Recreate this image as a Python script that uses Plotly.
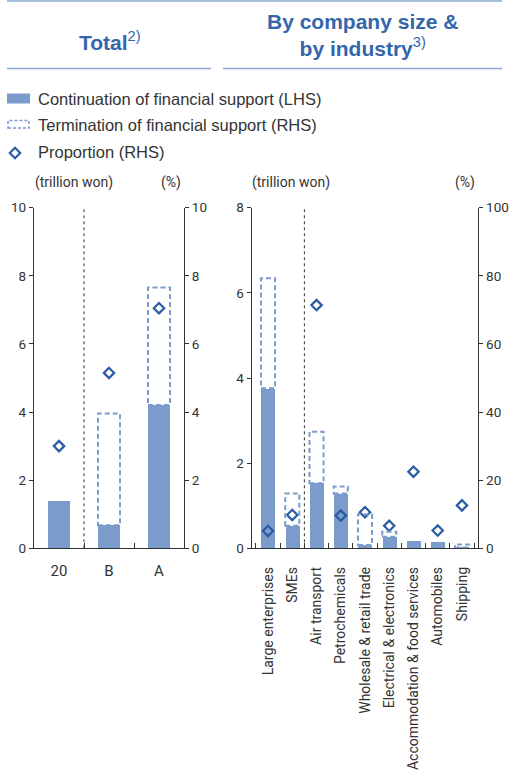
import plotly.graph_objects as go

# ---------------- data ----------------
total_cats = ["20", "B", "A"]
total_cont = [1.4, 0.68, 4.21]          # trillion won
total_term = [0.0, 3.28, 3.45]          # trillion won (stacked on top)
total_prop = [3.0, 5.15, 7.05]          # %

ind_cats = ["Large enterprises", "SMEs", "Air transport", "Petrochemicals",
            "Wholesale & retail trade", "Electrical & electronics",
            "Accommodation & food services", "Automobiles", "Shipping"]
ind_cont = [3.76, 0.53, 1.53, 1.29, 0.08, 0.27, 0.17, 0.15, 0.02]
ind_term = [2.58, 0.76, 1.21, 0.16, 0.72, 0.12, 0.0, 0.0, 0.07]
ind_prop = [5.1, 9.8, 71.4, 9.6, 10.6, 6.6, 22.5, 5.2, 12.6]

# ---------------- styling ----------------
W, H = 509, 772
BAR = "#7B9BCB"
DIA = "#2A5CA6"
HEAD = "#3366AA"
LINE = "#8AA8D2"
TXT = "#333333"
NARROW = "Liberation Sans Narrow, Arial Narrow, Roboto, sans-serif"
SANS = "Liberation Sans, Arial, Helvetica, sans-serif"


def px(x):
    return x / W


def py(y):
    return 1 - y / H


y_bottom, y_top = 548.3, 207.7
fig = go.Figure()
dmark = dict(symbol="diamond-open", size=8, color=DIA, line=dict(width=2.2, color=DIA))

# left panel
fig.add_trace(go.Bar(x=total_cats, y=total_cont, marker_color=BAR, width=0.44,
                     xaxis="x", yaxis="y", showlegend=False, marker_line_width=0))
fig.add_trace(go.Scatter(x=total_cats, y=total_prop, mode="markers", xaxis="x", yaxis="y2",
                         marker=dmark, showlegend=False))
# right panel
fig.add_trace(go.Bar(x=ind_cats, y=ind_cont, marker_color=BAR, width=0.58,
                     xaxis="x2", yaxis="y3", showlegend=False, marker_line_width=0))
fig.add_trace(go.Scatter(x=ind_cats, y=ind_prop, mode="markers", xaxis="x2", yaxis="y4",
                         marker=dmark, showlegend=False))

shapes = []
# dashed termination boxes
for i, (c, t) in enumerate(zip(total_cont, total_term)):
    if t > 0:
        shapes.append(dict(type="rect", xref="x", yref="y", x0=i - 0.22, x1=i + 0.22,
                           y0=c, y1=c + t, line=dict(color=BAR, width=2, dash="5px,3px")))
for i, (c, t) in enumerate(zip(ind_cont, ind_term)):
    if t > 0:
        shapes.append(dict(type="rect", xref="x2", yref="y3", x0=i - 0.29, x1=i + 0.29,
                           y0=c, y1=c + t, line=dict(color=BAR, width=2, dash="5px,3px")))
# dotted separators
shapes.append(dict(type="line", xref="x", yref="y", x0=0.5, x1=0.5, y0=0, y1=10,
                   line=dict(color="#333333", width=1, dash="dot")))
shapes.append(dict(type="line", xref="x2", yref="y3", x0=1.5, x1=1.5, y0=0, y1=8,
                   line=dict(color="#333333", width=1, dash="dot")))
# header rules
shapes.append(dict(type="line", xref="paper", yref="paper", x0=px(7), x1=px(502),
                   y0=py(1), y1=py(1), line=dict(color=LINE, width=1.5)))
shapes.append(dict(type="line", xref="paper", yref="paper", x0=px(7), x1=px(211),
                   y0=py(68.5), y1=py(68.5), line=dict(color=LINE, width=1.5)))
shapes.append(dict(type="line", xref="paper", yref="paper", x0=px(223), x1=px(502),
                   y0=py(68.5), y1=py(68.5), line=dict(color=LINE, width=1.5)))
# legend symbols
shapes.append(dict(type="rect", xref="paper", yref="paper", x0=px(7), x1=px(30),
                   y0=py(103.5), y1=py(93.5), fillcolor=BAR, line=dict(width=0)))
shapes.append(dict(type="rect", xref="paper", yref="paper", x0=px(8), x1=px(29),
                   y0=py(128), y1=py(120.5), line=dict(color=BAR, width=1.5, dash="3px,2px")))
fig.add_trace(go.Scatter(x=[px(15)], y=[py(153)], mode="markers", xaxis="x3", yaxis="y5",
                         marker=dmark, showlegend=False, hoverinfo="skip"))

ann = []
ann.append(dict(text="<b>Total</b><sup>2)</sup>", x=px(110), y=py(41), xref="paper", yref="paper",
                xanchor="center", yanchor="middle", showarrow=False,
                font=dict(family=SANS, size=21, color=HEAD)))
ann.append(dict(text="<b>By company size &</b><br><b>by industry</b><sup>3)</sup>", x=px(362), y=py(35),
                xref="paper", yref="paper", xanchor="center", yanchor="middle", showarrow=False,
                font=dict(family=SANS, size=21, color=HEAD)))
for txt, yy in [("Continuation of financial support (LHS)", 98.5),
                ("Termination of financial support (RHS)", 125),
                ("Proportion (RHS)", 152)]:
    ann.append(dict(text=txt, x=px(36), y=py(yy), xref="paper", yref="paper", xanchor="left",
                    yanchor="middle", showarrow=False, font=dict(family=SANS, size=16.5, color=TXT)))
for txt, xx, anchor in [("(trillion won)", 33, "left"), ("(%)", 183, "right"),
                        ("(trillion won)", 250, "left"), ("(%)", 477, "right")]:
    ann.append(dict(text=txt, x=px(xx), y=py(183), xref="paper", yref="paper", xanchor=anchor,
                    yanchor="middle", showarrow=False, font=dict(family=NARROW, size=14, color=TXT)))

ydom = [py(y_bottom), py(y_top)]
tickfont = dict(family=NARROW, size=13.5, color=TXT)
yax = dict(showline=True, linecolor="#333333", linewidth=1.2, ticks="outside", ticklen=4,
           tickcolor="#333333", showgrid=False, zeroline=False, tickfont=tickfont, domain=ydom,
           automargin=False)
xax = dict(type="category", showline=True, linecolor="#333333", linewidth=1.2, ticks="inside",
           tickson="boundaries", ticklen=5, tickcolor="#333333", showgrid=False,
           tickfont=dict(family=NARROW, size=15, color=TXT), automargin=False)

fig.update_layout(
    width=W, height=H, margin=dict(l=0, r=0, t=0, b=0, pad=0, autoexpand=False),
    paper_bgcolor="white", plot_bgcolor="rgba(0,0,0,0)",
    xaxis=dict(xax, domain=[px(34), px(184)], anchor="y", ticklabelstandoff=9),
    yaxis=dict(yax, range=[0, 10], dtick=2, anchor="x"),
    yaxis2=dict(yax, range=[0, 10], dtick=2, overlaying="y", side="right", anchor="x"),
    xaxis2=dict(xax, domain=[px(251.7), px(478.3)], anchor="y3", tickangle=-90,
                tickfont=dict(family=NARROW, size=14, color=TXT), ticklabelstandoff=12),
    yaxis3=dict(yax, range=[0, 8], dtick=2, anchor="x2"),
    yaxis4=dict(yax, range=[0, 100], dtick=20, overlaying="y3", side="right", anchor="x2"),
    xaxis3=dict(range=[0, 1], domain=[0, 1], visible=False, anchor="y5", automargin=False),
    yaxis5=dict(range=[0, 1], domain=[0, 1], visible=False, anchor="x3", automargin=False),
    shapes=shapes, annotations=ann, bargap=0,
)

# remove the browser's default page margin so the figure sits at the window origin
fig.write_html("out.html", config={"displayModeBar": False},
               post_script="document.body.style.margin='0';document.body.style.overflow='hidden';")
